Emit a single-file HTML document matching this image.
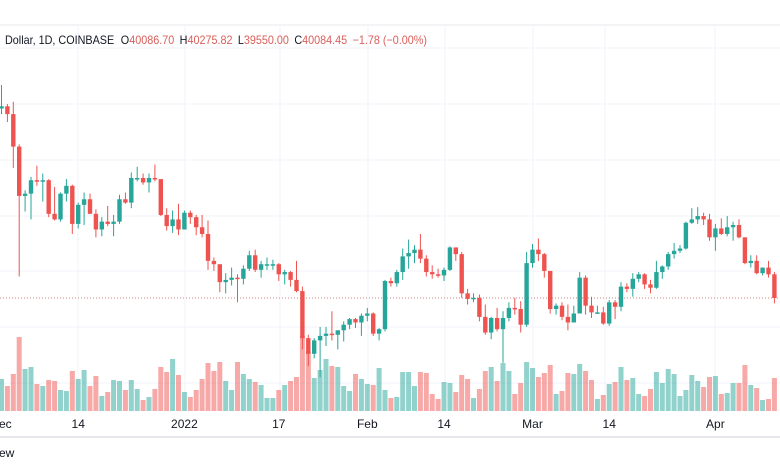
<!DOCTYPE html>
<html><head><meta charset="utf-8">
<style>
html,body{margin:0;padding:0;background:#fff;}
body{width:780px;height:470px;overflow:hidden;font-family:"Liberation Sans",sans-serif;}
</style></head>
<body>
<svg id="chart" width="780" height="470" xmlns="http://www.w3.org/2000/svg">
<line x1="0" y1="25" x2="780" y2="25" stroke="#e6e8ee" stroke-width="1"/>
<g id="grid"></g>
<line x1="0" y1="298" x2="780" y2="298" stroke="#d08080" stroke-width="1" stroke-dasharray="1,2"/>
<g id="vol"></g>
<g id="candles"></g>
<g id="xaxis" font-size="12" fill="#131722"></g>
<text x="5" y="44" font-size="12" fill="#131722" textLength="422" lengthAdjust="spacingAndGlyphs">Dollar, 1D, COINBASE <tspan dx="4">O</tspan><tspan fill="#d9605b">40086.70</tspan><tspan dx="6">H</tspan><tspan fill="#d9605b">40275.82</tspan><tspan dx="6">L</tspan><tspan fill="#d9605b">39550.00</tspan><tspan dx="6">C</tspan><tspan fill="#d9605b">40084.45</tspan><tspan dx="6" fill="#d9605b">−1.78 (−0.00%)</tspan></text>
<line x1="0" y1="437" x2="780" y2="437" stroke="#e6e8ee" stroke-width="2"/>
<text x="-1" y="457" font-size="12" fill="#131722">ew</text>
</svg>
<script>
const closes=[57200,56500,53600,49200,49400,50600,50500,50600,47600,47100,49400,50100,46700,48400,48900,47600,46200,46900,46700,46900,48900,48600,50800,50800,50400,50800,50700,47500,46500,47100,46200,
47700,47300,46400,45800,43400,43100,41500,41700,41900,41800,42700,43900,42600,43100,43100,43100,42200,42400,41700,40700,36500,35100,36300,36700,36900,36800,37200,37700,38200,37900,38500,
38700,36900,37300,41600,41400,42400,43800,44100,44400,43600,42400,42200,42100,42600,44600,44000,40500,40000,40100,38400,37000,38300,37300,38300,39200,39100,37700,43200,
44400,44000,42500,39100,39400,38400,37900,38700,41900,39400,38800,38800,37800,39700,39300,41100,40900,41800,42200,41300,41000,42400,42900,44000,44300,44500,46800,47100,47400,47100,45500,
46300,45800,46400,46600,45500,43200,43400,42300,42800,42200,40084];
const highs=[59100,57400,57600,53800,49700,50900,51900,51200,50700,50000,49500,50700,50200,48600,49500,49400,48000,47300,48300,47500,49300,49500,51300,51800,51200,51200,52000,50700,48100,47900,48500,
47900,47900,47500,47500,47000,43700,43100,42300,42800,42200,43000,44300,44400,43400,43700,43500,43200,42600,42500,43400,41100,36800,36500,37500,37500,38900,37200,38000,38300,38300,38700,
39200,38800,37400,41700,41900,42600,44500,45300,44800,45800,43900,43000,42700,42800,44700,44600,44200,40900,40500,40400,39500,38400,39200,38900,39700,40100,39800,44200,
44900,45400,44100,42500,39600,39700,39500,39400,42400,42100,40200,39400,39300,39900,39900,41500,41400,42300,42400,42300,41700,43400,43000,44200,45000,44800,46900,48100,48200,47700,47600,
46700,47200,47400,46900,47100,45500,43900,43900,42800,43400,42400];
const lows=[56500,55800,51700,42000,47800,47100,50100,48700,47300,47000,46900,48700,45800,46300,46600,47600,45500,45600,46500,45600,46700,48500,48100,50500,50200,49500,50500,47400,46100,45900,45700,
46200,46700,45700,45500,42600,42500,40600,40500,41200,39700,41300,42500,42400,41900,42600,42600,41600,41300,41100,40600,35500,34000,34700,33000,35800,36300,35500,36200,37300,37400,36700,
38000,36700,36300,37100,41100,41100,41700,42700,43200,43200,42000,41800,41900,41600,42500,43400,40100,39500,39700,38000,36800,36400,37100,34300,38000,38600,37000,37500,
42800,43400,41900,38700,38600,38100,37200,37900,38700,38600,38300,38700,37700,37600,38200,38900,40600,40200,41500,40900,40500,40900,41800,42600,43600,44100,44400,46700,46700,46600,45200,
44300,45700,45600,45200,45400,43100,42800,42200,42100,41900,39600];
const prevClose=57000;
const volumes=[32,25,37,74,42,44,27,25,31,30,21,20,40,32,41,25,35,15,19,31,30,21,31,22,11,14,22,44,39,52,36,19,14,21,32,48,40,49,30,21,49,37,32,29,26,13,13,21,26,30,34,75,60,33,41,52,45,44,25,20,37,32,27,26,43,21,13,14,
39,39,25,39,38,17,12,29,28,19,36,32,13,22,40,44,30,48,40,17,28,49,
43,34,38,46,17,20,38,37,47,40,31,12,16,27,29,44,31,33,17,15,22,39,28,42,37,15,21,36,30,24,34,35,17,18,28,28,46,26,23,11,12,33];
const tickLabels=["ec","14","2022","17","Feb","14","Mar","14","Apr"];
const tickIdx=[0.5,13,31,47,62,75,90,103,121];

const NS="http://www.w3.org/2000/svg";
function xAt(i){return 1.5+i*5.9;}
function yAt(p){return 298-(p-40084)*0.0112;}
function vH(v){return v;}
function mk(tag,attrs,parent){const e=document.createElementNS(NS,tag);for(const k in attrs)e.setAttribute(k,attrs[k]);parent.appendChild(e);return e;}

const grid=document.getElementById('grid');
[48,104,160,216,271,327,383].forEach(y=>{
  const l=mk('line',{x1:0,x2:780,y1:y,y2:y,stroke:'#f0f3fa','stroke-width':1},grid);
  
  
});
[78,185,280,368,445,533,605,715].forEach(x=>{
  const l=mk('line',{x1:x,x2:x,y1:26,y2:411,stroke:'#f0f3fa','stroke-width':1},grid);
  
  
});

const cg=document.getElementById('candles'),vg=document.getElementById('vol');
for(let i=0;i<closes.length;i++){
  const o=i===0?prevClose:closes[i-1],c=closes[i];
  const up=c>=o;
  const col=up?'#26a69a':'#ef5350';
  const x=xAt(i);
  const vb=mk('rect',{x:x-2.5,y:411-vH(volumes[i]),width:5,height:vH(volumes[i]),fill:up?'rgba(38,166,154,0.5)':'rgba(239,83,80,0.5)'},vg);
  
  
  const w=mk('line',{x1:x,x2:x,y1:yAt(highs[i]),y2:yAt(lows[i]),stroke:col,'stroke-width':1},cg);
  
  
  const t=Math.min(yAt(o),yAt(c)),h=Math.max(1.5,Math.abs(yAt(o)-yAt(c)));
  const b=mk('rect',{x:x-2.2,y:t,width:4.4,height:h,fill:col},cg);
  
  
}
const xg=document.getElementById('xaxis');
tickLabels.forEach((lab,k)=>{
  const x=k===0?-1:xAt(tickIdx[k]);
  const t=mk('text',{x:x,y:428,'text-anchor':k===0?'start':'middle'},xg);
  t.textContent=lab;
  
  
});
</script>
</body></html>
